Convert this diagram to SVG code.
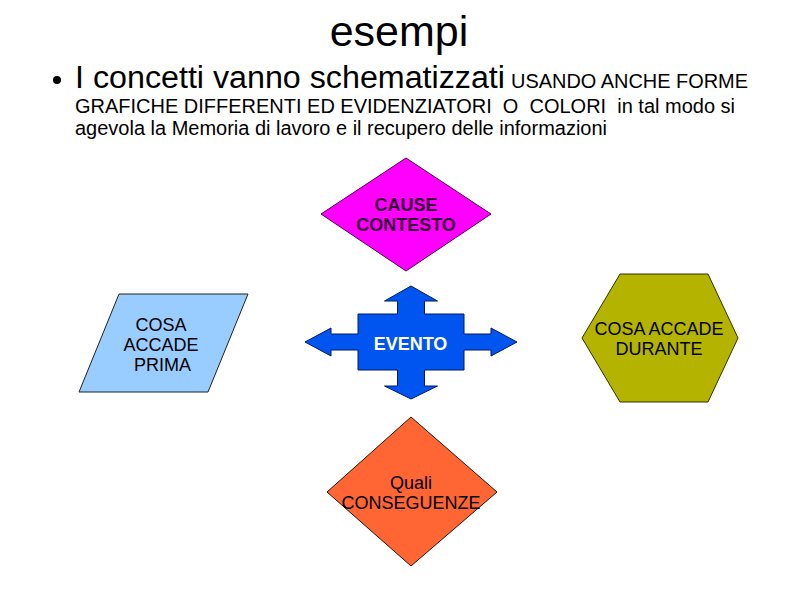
<svg xmlns="http://www.w3.org/2000/svg" width="794" height="595" viewBox="0 0 794 595">
<style>
text{font-family:"Liberation Sans",Arial,sans-serif;fill:#000;white-space:pre}
.lbl{font-size:18px;text-anchor:middle}
.b{font-weight:bold}
.shape{stroke-width:1}
</style>
<rect width="794" height="595" fill="#fff"/>
<g id="title">
<text x="399" y="46" font-size="43" text-anchor="middle">esempi</text>
</g>
<g id="bullet-text">
<circle cx="57" cy="80" r="4" fill="#000"/>
<text x="75" y="88" font-size="31" textLength="430" lengthAdjust="spacingAndGlyphs">I concetti vanno schematizzati</text>
<text x="511" y="88" font-size="20" textLength="237" lengthAdjust="spacingAndGlyphs">USANDO ANCHE FORME</text>
<text x="75" y="113" font-size="20" textLength="660" lengthAdjust="spacingAndGlyphs">GRAFICHE DIFFERENTI ED EVIDENZIATORI  O  COLORI  in tal modo si</text>
<text x="75" y="135" font-size="20" textLength="532" lengthAdjust="spacingAndGlyphs">agevola la Memoria di lavoro e il recupero delle informazioni</text>
</g>
<g id="connectors"/>
<g id="cause">
<polygon class="shape" points="406,158 491,214 406,271 321,214" fill="#ff00ff" stroke="#550055"/>
<text class="lbl b" x="406" y="211" style="fill:#330033">CAUSE</text>
<text class="lbl b" x="406" y="231" style="fill:#330033">CONTESTO</text>
</g>
<g id="evento">
<polygon class="shape" points="411,286 437.5,301 424.5,301 424.5,314 464,314 464,334 491,334 491,328 517,342 491,356 491,350 464,350 464,370 424.5,370 424.5,386 437.5,386 411,399 384.5,386 397.5,386 397.5,370 358,370 358,350 331,350 331,356 305,342 331,328 331,334 358,334 358,314 397.5,314 397.5,301 384.5,301" fill="#0055f0" stroke="#001a66"/>
<text class="lbl b" x="410.5" y="349.5" style="fill:#fff">EVENTO</text>
</g>
<g id="prima">
<polygon class="shape" points="119,294 248,294 208,392 79,392" fill="#99ccff" stroke="#222"/>
<text class="lbl" x="161" y="330.5">COSA</text>
<text class="lbl" x="161" y="350.5">ACCADE</text>
<text class="lbl" x="162.5" y="370.5">PRIMA</text>
</g>
<g id="durante">
<polygon class="shape" points="620,274 708,274 738,338 708,402 620,402 582,338" fill="#b3b300" stroke="#333300"/>
<text class="lbl" x="659" y="334.5">COSA ACCADE</text>
<text class="lbl" x="659" y="354.5">DURANTE</text>
</g>
<g id="conseguenze">
<polygon class="shape" points="411,417 497,492 411,566 327,492" fill="#ff6633" stroke="#331100"/>
<text class="lbl" x="411" y="488.5">Quali</text>
<text class="lbl" x="411" y="508.5">CONSEGUENZE</text>
</g>
</svg>
